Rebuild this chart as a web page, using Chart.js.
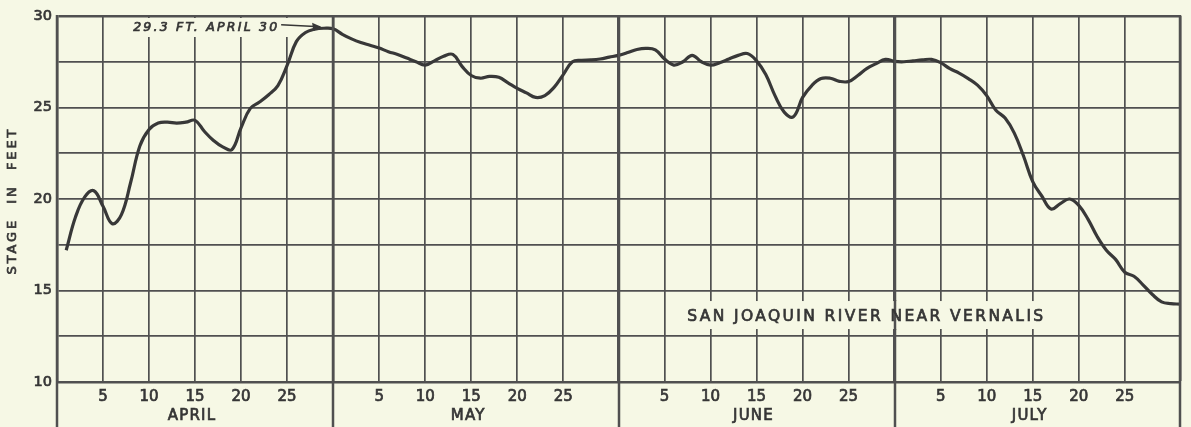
<!DOCTYPE html>
<html><head><meta charset="utf-8">
<script src="https://cdn.jsdelivr.net/npm/chart.js@4"></script>
<style>html,body{margin:0;padding:0;background:#f6f8e5;}#wrap{width:1191px;height:427px;position:relative}</style>
</head><body><div id="wrap"><canvas id="c" width="1191" height="427"></canvas></div>
<script>
// ---- data ----
const monthNames = ['APRIL', 'MAY', 'JUNE', 'JULY'];
const monthLengths = [30, 31, 30, 31];
const dayTickLabels = [5, 10, 15, 20, 25];
const yTickLabels = [10, 15, 20, 25, 30];
const aprilStage = [17.2, 19.0, 20.1, 20.45, 19.6, 18.65, 19.15, 20.9, 22.9, 23.8, 24.15, 24.2, 24.15, 24.2, 24.3, 23.7, 23.2, 22.85, 22.7, 23.9, 24.95, 25.3, 25.7, 26.2, 27.3, 28.6, 29.1, 29.28, 29.33, 29.3];
const mayStage = [29.0, 28.75, 28.55, 28.4, 28.25, 28.05, 27.9, 27.7, 27.5, 27.32, 27.55, 27.8, 27.9, 27.25, 26.75, 26.6, 26.7, 26.65, 26.35, 26.05, 25.8, 25.55, 25.65, 26.1, 26.8, 27.5, 27.58, 27.6, 27.65, 27.75, 27.85];
const juneStage = [28.0, 28.17, 28.23, 28.15, 27.65, 27.32, 27.5, 27.85, 27.5, 27.32, 27.45, 27.65, 27.85, 27.95, 27.55, 26.8, 25.65, 24.75, 24.5, 25.55, 26.2, 26.58, 26.6, 26.43, 26.42, 26.75, 27.14, 27.4, 27.63, 27.52];
const julyStage = [27.5, 27.55, 27.6, 27.63, 27.45, 27.12, 26.88, 26.58, 26.22, 25.65, 24.85, 24.42, 23.6, 22.35, 20.95, 20.15, 19.45, 19.75, 20.0, 19.65, 18.9, 17.95, 17.2, 16.7, 16.0, 15.78, 15.3, 14.78, 14.38, 14.28, 14.26];
const chartTitle = 'SAN JOAQUIN RIVER NEAR VERNALIS';
const yTitle = 'STAGE  IN  FEET';
const peakNote = '29.3 FT. APRIL 30';
const peakDay = 30, peakStage = 29.3;

// ---- derived ----
const monthStages = [aprilStage, mayStage, juneStage, julyStage];
const monthStarts = [];
let acc = 0;
monthLengths.forEach(l => { monthStarts.push(acc); acc += l; });
const totalDays = acc;
const points = [];
monthStages.forEach((arr, m) => arr.forEach((v, i) => points.push({x: monthStarts[m] + i + 1, y: v})));
const boundaries = monthStarts.slice(1).concat([totalDays]);
const xTickMap = new Map();
monthStarts.forEach((s, m) => {
  dayTickLabels.forEach(d => { if (d < monthLengths[m]) xTickMap.set(s + d, String(d)); });
  xTickMap.set(s + monthLengths[m], '');
});
const xTickVals = [...xTickMap.keys()].sort((a, b) => a - b);

const BG = '#f6f8e5', GRID = '#505050', INK = '#363636';
const FONT = '"DejaVu Sans", sans-serif';
const STROKE = 0.7;

function spacedText(c, text, x, y, targetW) {
  c.letterSpacing = '0px';
  const w0 = c.measureText(text).width;
  const sp = (targetW - w0) / (text.length - 1);
  c.letterSpacing = sp + 'px';
  c.textAlign = 'left';
  c.fillText(text, x - targetW / 2, y);
  c.strokeText(text, x - targetW / 2, y);
  c.letterSpacing = '0px';
}

const decor = {
  id: 'decor',
  beforeDraw(chart) {
    const c = chart.ctx;
    c.save(); c.fillStyle = BG; c.fillRect(0, 0, chart.width, chart.height); c.restore();
  },
  afterDraw(chart) {
    const c = chart.ctx, xs = chart.scales.x, ys = chart.scales.y, a = chart.chartArea;
    c.save();
    // boundary lines extended below the plot
    c.strokeStyle = GRID; c.lineWidth = 2.5;
    [0].concat(boundaries).forEach(v => {
      const x = Math.round(xs.getPixelForValue(v));
      c.beginPath(); c.moveTo(x, a.top - 1); c.lineTo(x, chart.height); c.stroke();
    });
    c.fillStyle = INK; c.strokeStyle = INK; c.lineWidth = STROKE;
    // month names
    c.font = '15px ' + FONT; c.textBaseline = 'middle';
    monthNames.forEach((n, m) => {
      c.letterSpacing = '0px';
      const w = c.measureText(n).width + (n.length - 1) * 1.2;
      spacedText(c, n, xs.getPixelForValue(monthStarts[m] + 14.6), 416, w);
    });
    // y title
    c.save();
    c.translate(13, (a.top + a.bottom) / 2 + 3);
    c.rotate(-Math.PI / 2);
    c.font = '13px ' + FONT; c.textBaseline = 'middle';
    spacedText(c, yTitle, 0, 0, 145);
    c.restore();
    // title box
    const tx = xs.getPixelForValue(87.8), ty = ys.getPixelForValue(13.55);
    const tw = 356;
    c.fillStyle = BG; c.fillRect(tx - tw / 2 - 5, ty - 16, tw + 10, 28);
    c.strokeStyle = GRID; c.lineWidth = 2.5;
    const bx = Math.round(xs.getPixelForValue(boundaries[2]));
    c.beginPath(); c.moveTo(bx, ty - 17); c.lineTo(bx, ty + 13); c.stroke();
    c.fillStyle = INK; c.strokeStyle = INK; c.lineWidth = STROKE;
    c.font = '15.5px ' + FONT; c.textBaseline = 'middle';
    spacedText(c, chartTitle, tx, ty, tw);
    // peak annotation
    const px = xs.getPixelForValue(peakDay), py = ys.getPixelForValue(peakStage);
    c.font = 'italic 12.5px ' + FONT;
    const nw = 144;
    const tr = px - 56;
    c.fillStyle = BG; c.fillRect(tr - nw - 6, a.top + 2, nw + 22, 19);
    c.fillStyle = INK; c.textBaseline = 'middle';
    spacedText(c, peakNote, tr - nw / 2, py - 1, nw);
    c.lineWidth = 1.5;
    c.beginPath(); c.moveTo(tr + 4, py - 4); c.lineTo(px - 13, py - 2); c.stroke();
    c.beginPath(); c.moveTo(px - 12, py - 2); c.lineTo(px - 21, py - 6); c.lineTo(px - 20, py + 1); c.closePath(); c.fill();
    c.restore();
  }
};

new Chart(document.getElementById('c'), {
  type: 'line',
  data: { datasets: [{ data: points, borderColor: '#383838', borderWidth: 3.2, pointRadius: 0, tension: 0.4, fill: false }] },
  options: {
    responsive: false, animation: false, devicePixelRatio: 1,
    layout: { padding: { left: 4, top: 16, right: 11, bottom: 0 } },
    plugins: { legend: { display: false }, tooltip: { enabled: false } },
    scales: {
      x: {
        type: 'linear', min: 0, max: totalDays,
        afterBuildTicks(s) { s.ticks = xTickVals.map(v => ({ value: v })); },
        afterFit(s) { s.height = 45; },
        ticks: { autoSkip: false, maxRotation: 0, padding: 6, color: INK, font: { family: FONT, size: 15 },
          textStrokeColor: INK, textStrokeWidth: STROKE,
          callback: v => xTickMap.has(v) ? xTickMap.get(v) : '' },
        grid: { color: GRID, drawTicks: false, lineWidth: ctx => (ctx.tick && boundaries.includes(ctx.tick.value)) ? 2.5 : 1.7 },
        border: { display: true, color: GRID, width: 2.5 }
      },
      y: {
        min: 10, max: 30,
        afterBuildTicks(s) { const t = []; for (let v = 10; v <= 30; v += 2.5) t.push({ value: v }); s.ticks = t; },
        afterFit(s) { s.width = 53; },
        ticks: { padding: 5, color: INK, font: { family: FONT, size: 14.5 },
          textStrokeColor: INK, textStrokeWidth: STROKE,
          callback: v => yTickLabels.includes(v) ? String(v) : '' },
        grid: { color: GRID, drawTicks: false, lineWidth: ctx => (ctx.tick && ctx.tick.value === 30) ? 2.5 : 1.7 },
        border: { display: true, color: GRID, width: 2.5 }
      }
    }
  },
  plugins: [decor]
});
</script>
</body></html>
